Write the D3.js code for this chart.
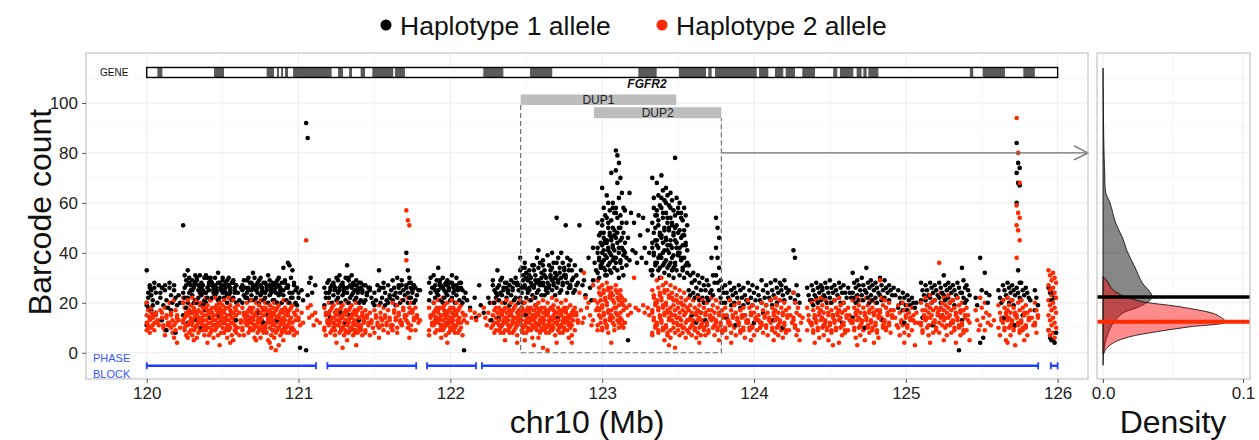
<!DOCTYPE html>
<html>
<head>
<meta charset="utf-8">
<script src="https://cdn.jsdelivr.net/npm/d3@7"></script>
<style>
  body { margin: 0; background: #fff; }
  text { font-family: "Liberation Sans", Arial, Helvetica, sans-serif; }
</style>
</head>
<body>
<svg id="chart" width="1259" height="440"></svg>
<script>
// ---- data ----
const xTicks = [120, 121, 122, 123, 124, 125, 126];
const yTicks = [0, 20, 40, 60, 80, 100];
const densityTicks = [0.0, 0.1];
const legendLabels = ["Haplotype 1 allele", "Haplotype 2 allele"];

const geneName = "FGFR2";
const geneSpan = [120.0, 126.0];
const geneExons = [
  [120.070, 120.103], [120.443, 120.509], [120.790, 120.838], [120.858, 120.871],
  [120.885, 120.898], [120.911, 120.931], [120.964, 121.218], [121.260, 121.293],
  [121.333, 121.352], [121.409, 121.438], [121.486, 121.624], [121.635, 121.701],
  [122.217, 122.349], [122.525, 122.671], [123.238, 123.359], [123.505, 123.684],
  [123.699, 123.721], [123.743, 124.018], [124.033, 124.094], [124.138, 124.193],
  [124.209, 124.270], [124.318, 124.402], [124.522, 124.548], [124.566, 124.654],
  [124.676, 124.709], [124.720, 124.742], [124.753, 124.819], [125.422, 125.444],
  [125.506, 125.653], [125.774, 125.850]
];

const dupNames = ["DUP1", "DUP2"];
const dupStarts = [122.463, 122.946];
const dupEnds = [123.488, 123.785];

const phaseBlocks = [
  [120.0, 121.115], [121.19, 121.775], [121.846, 122.169], [122.208, 125.872], [125.955, 126.0]
];

// barcode counts per ~0.03 Mb window: [window start (Mb), counts]
const hap1 = [
  [120.00, [33,24,27,19,22,26,20,18,14,11]],
  [120.03, [25,21,28,23,19,26,17]],
  [120.06, [24,20,27,16]],
  [120.09, [22,26,19,24,13]],
  [120.12, [27,21,18,25,9]],
  [120.15, [26,23,20,28,17]],
  [120.18, [25,22,19,27,8,14]],
  [120.21, [23,20]],
  [120.24, [51,31,27,24,22,29,20,26,18,15]],
  [120.27, [33,28,25,22,30,27,20,24,19,12]],
  [120.30, [29,26,31,23,27,21,25,20,28,16]],
  [120.33, [30,27,24,29,22,26,20,25,31,13]],
  [120.36, [28,25,30,23,27,21,26,19,24,10]],
  [120.39, [31,26,28,24,22,27,20,30,25,17]],
  [120.42, [29,27,24,30,22,26,21,28,25,14]],
  [120.45, [30,26,28,23,25,21,27,24,32,11]],
  [120.48, [28,25,30,22,27,24,20,26,29,15]],
  [120.51, [27,24,29,22,26,20,25,28,23,12]],
  [120.54, [30,26,28,23,25,21,27,24,16]],
  [120.57, [29,25,27,22,26,20,28,24,13]],
  [120.60, [24,21,26]],
  [120.63, [27,23,26,20,29,22,25]],
  [120.66, [29,25,28,22,26,21,24,30,14]],
  [120.69, [28,26,30,23,27,21,25,32,11]],
  [120.72, [27,24,29,22,26,20,25,28,16]],
  [120.75, [30,26,28,23,25,21,27,24,12]],
  [120.78, [28,25,31,22,27,20,24,26,15]],
  [120.81, [29,26,28,23,25,21,27,24,9]],
  [120.84, [27,24,29,21,26,20,25,28,13]],
  [120.87, [30,26,28,23,25,20,27,24,17]],
  [120.90, [34,29,26,23,28,21,25,10]],
  [120.93, [36,35,30,27,24,22,26,20]],
  [120.96, [33,28,25,22,27,20,24]],
  [120.99, [26,22,2,19,24]],
  [121.02, [25,21]],
  [121.05, [92,86,28,1,23]],
  [121.08, [30,24]],
  [121.11, [27]],
  [121.17, [26,22,28,19,24]],
  [121.20, [29,25,27,22,26,20,24,14]],
  [121.23, [28,26,30,23,25,21,27,11]],
  [121.26, [29,25,27,22,26,20,24,31,16]],
  [121.29, [28,26,30,23,25,21,27,24,12]],
  [121.32, [35,30,27,24,29,22,26,20,15]],
  [121.35, [31,28,25,23,27,21,26,24,9]],
  [121.38, [29,26,28,22,25,20,27,24,13]],
  [121.41, [28,25,27,21,24,20,26]],
  [121.44, [27,24,26,21,23]],
  [121.47, [25,22,20,26]],
  [121.50, [24,21,27,19]],
  [121.53, [33,26,22,25,20]],
  [121.56, [28,24,21,26,19]],
  [121.59, [27,23,25,20,22]],
  [121.62, [29,26,24,21,23,19]],
  [121.65, [30,26,24,22,27,20]],
  [121.68, [29,25,23,27,21]],
  [121.71, [40,33,28,26,24,22,27,20,30]],
  [121.74, [28,25,27,22,24,20,26]],
  [121.77, [26,23,25,21]],
  [121.80, [25]],
  [121.86, [28,24,26,21,30]],
  [121.89, [31,27,24,26,22,29,20,25,14]],
  [121.92, [34,29,26,23,28,21,25,27,11]],
  [121.95, [30,27,24,26,22,28,20,25,16]],
  [121.98, [29,26,28,23,25,21,27,12]],
  [122.01, [31,27,25,22,26,20,28,24,15]],
  [122.04, [30,26,28,23,25,21,27]],
  [122.07, [28,25,22,26,20,1]],
  [122.10, [24,21]],
  [122.13, [18]],
  [122.16, [22,14]],
  [122.19, [27,19]],
  [122.22, [16]],
  [122.25, [22,20,13]],
  [122.28, [29,25,22,27,20,24]],
  [122.31, [33,27,24,26,21,29,23,14]],
  [122.34, [30,26,28,23,25,20,11]],
  [122.37, [28,25,27,22,24,19,26]],
  [122.40, [29,26,28,23,25,21,15]],
  [122.43, [30,27,25,22,28,20]],
  [122.46, [38,34,31,27,24,29,22,26,20,33,18]],
  [122.49, [36,32,29,26,30,24,27,22,25,34,15]],
  [122.52, [33,30,27,25,28,23,26,21,35,31]],
  [122.55, [35,31,28,26,29,24,27,22,38,33,19]],
  [122.58, [41,36,32,29,27,30,25,28,23,34,12]],
  [122.61, [37,33,30,27,31,25,28,23,26,35]],
  [122.64, [39,35,31,28,26,30,24,27,33,16]],
  [122.67, [40,36,32,29,27,30,25,28,23,34]],
  [122.70, [54,38,34,31,28,32,26,29,24,36,14]],
  [122.73, [40,36,33,30,27,31,25,28,34]],
  [122.76, [51,38,35,31,28,26,30,24,33]],
  [122.79, [37,33,30,27,29,24,26]],
  [122.82, [35,31,28,25,27]],
  [122.85, [51,33,27]],
  [122.88, [29,23]],
  [122.91, [38,26,21]],
  [122.94, [42,36,33,29]],
  [122.97, [52,47,44,40,37,35,32,30,48,42,38,34,29]],
  [123.00, [66,58,55,51,48,45,43,41,39,36,34,31,53,46,44,40,37,33]],
  [123.03, [63,60,57,54,50,47,44,42,40,38,35,33,31,52,48,45,41,36]],
  [123.06, [72,60,56,53,50,47,45,43,41,39,37,34,32,58,49,46,42,38]],
  [123.09, [81,79,76,73,68,62,58,54,50,46,44,40,36,33,30,56,48,42,38]],
  [123.12, [70,64,58,55,52,48,45,42,39,36,34,31,50,46,41,37]],
  [123.15, [57,52,46,40,35,5,44,38]],
  [123.18, [64,56,41,37]],
  [123.21, [52,40,36]],
  [123.24, [55,47,38]],
  [123.27, [54,42,36]],
  [123.30, [49,40,33]],
  [123.33, [70,62,55,52,48,45,42,39,36,33,58,50,44,40,35,31]],
  [123.36, [68,63,59,55,51,48,45,42,39,36,33,30,57,53,47,43,38,34]],
  [123.39, [71,65,61,58,54,50,47,44,41,38,35,32,62,56,49,46,40,36]],
  [123.42, [66,63,59,56,52,49,46,43,40,37,34,31,60,54,50,45,41,35]],
  [123.45, [64,61,57,54,51,48,45,42,39,36,33,30,58,52,47,43,38,34]],
  [123.48, [78,62,58,55,51,48,45,42,39,36,33,56,50,44,40,35]],
  [123.51, [60,56,53,49,46,43,40,37,34,31,54,47,42,38,33]],
  [123.54, [58,55,51,47,44,41,38,35,32,49,43,36,30]],
  [123.57, [35,31,28,25,23,15]],
  [123.60, [32,29,26,24,22,12]],
  [123.63, [31,28,25,23,21,16]],
  [123.66, [30,27,25,22,20,13]],
  [123.69, [29,27,24,22,21]],
  [123.72, [38,31,28,25,23]],
  [123.75, [54,50,46,42,38,34,31,28,25]],
  [123.78, [29,26,24,22,20]],
  [123.81, [27,24,22,20,14]],
  [123.84, [28,25,23,21,19]],
  [123.87, [26,24,22,20,11]],
  [123.90, [27,25,22,20,18]],
  [123.93, [26,23,21,19,15]],
  [123.96, [28,25,22,20]],
  [123.99, [27,24,21,19,12]],
  [124.02, [26,23,21]],
  [124.05, [29,25,22,20,16]],
  [124.08, [27,24,22,19]],
  [124.11, [28,25,23,21,19,13]],
  [124.14, [29,26,24,22,20]],
  [124.17, [28,25,23,21,27,10]],
  [124.20, [29,26,24,21]],
  [124.23, [25,22]],
  [124.26, [41,38,27,24,21]],
  [124.29, [23,20]],
  [124.35, [26,23,21]],
  [124.38, [27,25,23,21,19,14]],
  [124.41, [28,26,24,22,20]],
  [124.44, [27,25,23,21,26,11]],
  [124.47, [28,26,24,22,20]],
  [124.50, [29,26,24,22,20,15]],
  [124.53, [27,25,23,21]],
  [124.56, [28,26,24,22,20,12]],
  [124.59, [27,24,22,20]],
  [124.62, [26,24,22]],
  [124.65, [32,28,26,24,22,20,14]],
  [124.68, [29,27,25,23,21]],
  [124.71, [30,27,25,23,21,10]],
  [124.74, [34,28,26,24,22,20]],
  [124.77, [29,27,25,23,21,16]],
  [124.80, [28,26,24,22,20]],
  [124.83, [30,27,25,23,21,13]],
  [124.86, [29,26,24,22]],
  [124.89, [27,25,23,21]],
  [124.92, [26,23]],
  [124.95, [25,22,20,18]],
  [124.98, [24,22,19,17,12]],
  [125.01, [23,21,19,17]],
  [125.04, [22,20,18]],
  [125.07, [20]],
  [125.10, [28,25,23,21,14]],
  [125.13, [27,25,23,21,19]],
  [125.16, [28,26,24,22,20,11]],
  [125.19, [27,25,23,21]],
  [125.22, [28,26,24,22,20,15]],
  [125.25, [31,27,25,23,21]],
  [125.28, [28,26,24,22,20,12]],
  [125.31, [27,25,23,21,19]],
  [125.34, [28,26,24,22,1]],
  [125.37, [34,29,26,24,22,20,13]],
  [125.40, [27,25,23,21]],
  [125.46, [22,19]],
  [125.49, [38,25,6,4]],
  [125.52, [32,24,20]],
  [125.55, [23]],
  [125.61, [25,22,20]],
  [125.64, [27,25,23,21,14]],
  [125.67, [28,26,24,22,20]],
  [125.70, [27,25,23,21,19,11]],
  [125.73, [84,76,74,72,68,67,60,33,28,26,24,22]],
  [125.76, [28,25,23,21,15]],
  [125.79, [26,24,22]],
  [125.82, [21]],
  [125.85, [25,22,19,17]],
  [125.94, [26,24,21,9,6,5]],
  [125.97, [24,22,8,5,4]]
];

const hap2 = [
  [120.00, [20,17,14,12,10,8,15,11,13,9]],
  [120.03, [18,15,12,10,14,9,16,11]],
  [120.06, [16,13,11,15,12]],
  [120.09, [17,14,11,13,16,10]],
  [120.12, [18,15,12,9,14,11,7]],
  [120.15, [20,16,13,11,15,8,12,10]],
  [120.18, [21,17,14,11,9,15,6,12,4]],
  [120.21, [13,10]],
  [120.24, [22,18,15,12,9,16,13,10,7,20,14,11]],
  [120.27, [21,17,14,11,8,19,15,12,9,6,16,13]],
  [120.30, [22,18,15,12,9,20,16,13,10,7,17,14,11,5]],
  [120.33, [21,17,14,11,8,19,15,12,9,16,13,10,6]],
  [120.36, [20,18,15,12,9,17,14,11,7,16,13,10]],
  [120.39, [22,19,16,13,10,7,18,15,12,9,17,14,11,4]],
  [120.42, [21,18,15,12,9,6,17,14,11,8,16,13,10]],
  [120.45, [22,19,16,13,10,7,18,15,12,9,17,14,11]],
  [120.48, [20,17,14,11,8,19,16,13,10,18,15,12,3]],
  [120.51, [21,18,15,12,9,6,17,14,11,16,13,10,8]],
  [120.54, [22,19,16,13,10,7,18,15,12,9,17,14,11,4]],
  [120.57, [21,18,15,12,9,17,14,11,8,16,13,10,5]],
  [120.60, [19,16,13,10,7,12]],
  [120.63, [18,15,12,9,16,13,10,7,14]],
  [120.66, [20,17,14,11,8,18,15,12,9,16,13,10]],
  [120.69, [21,18,15,12,9,6,17,14,11,16,13,10]],
  [120.72, [20,17,14,11,8,19,16,13,10,15,12,9,5]],
  [120.75, [21,18,15,12,9,17,14,11,8,16,13,10,6]],
  [120.78, [20,17,14,11,8,5,18,15,12,9,16,13,10]],
  [120.81, [19,16,13,10,7,18,15,12,9,17,14,11,4,2]],
  [120.84, [20,17,14,11,8,18,15,12,9,16,13,10,6,1]],
  [120.87, [19,16,13,10,7,17,14,11,8,15,12,9,3]],
  [120.90, [21,18,15,12,9,17,14,11,8,16,13,10,5]],
  [120.93, [20,17,14,11,8,18,15,12,9,16,13,10]],
  [120.96, [19,16,13,10,7,15,12,9]],
  [120.99, [17,14,11,8,13]],
  [121.02, [16,12]],
  [121.05, [45,18,14]],
  [121.08, [19,15,11]],
  [121.11, [16,13]],
  [121.14, [12]],
  [121.17, [18,15,12,9,16,13,10,7]],
  [121.20, [20,17,14,11,8,18,15,12,9,16,13]],
  [121.23, [19,16,13,10,7,17,14,11,15,12,9,4]],
  [121.26, [20,17,14,11,8,18,15,12,9,16,13,10]],
  [121.29, [19,16,13,10,7,17,14,11,8,15,12,9,2]],
  [121.32, [20,17,14,11,8,18,15,12,9,16,13,10,5]],
  [121.35, [19,16,13,10,7,17,14,11,8,15,12,9]],
  [121.38, [20,17,14,11,8,18,15,12,9,16,13,10,3]],
  [121.41, [18,15,12,9,16,13,10,7,14,11]],
  [121.44, [17,14,11,8,15,12,9]],
  [121.47, [16,13,10,7,12]],
  [121.50, [17,14,11,8,15,12]],
  [121.53, [19,16,13,10,14,11,6]],
  [121.56, [18,15,12,9,14,11]],
  [121.59, [17,14,11,8,13,10]],
  [121.62, [20,17,14,11,16,13,9]],
  [121.65, [19,16,13,10,15,12,8]],
  [121.68, [21,18,15,12,17,14,11]],
  [121.71, [57,53,51,37,22,18,15,12,16,13,10,6]],
  [121.74, [20,17,14,11,16,13,9]],
  [121.77, [18,15,12,9,14]],
  [121.80, [13]],
  [121.86, [18,15,12,9,14,11,7]],
  [121.89, [20,17,14,11,8,18,15,12,9,16,13]],
  [121.92, [21,18,15,12,9,6,17,14,11,16,13,10]],
  [121.95, [22,19,16,13,10,7,18,15,12,9,17,14,11]],
  [121.98, [20,17,14,11,8,18,15,12,9,16,13,10,4]],
  [122.01, [21,18,15,12,9,17,14,11,8,16,13,10]],
  [122.04, [20,17,14,11,8,18,15,12,9,16,13]],
  [122.07, [19,16,13,10,7,15,12]],
  [122.10, [15,12]],
  [122.13, [17,14]],
  [122.16, [16,13]],
  [122.19, [15]],
  [122.22, [18,14,11]],
  [122.25, [16,13,10]],
  [122.28, [20,17,14,11,8,18,15,12,9]],
  [122.31, [21,18,15,12,9,17,14,11,8,16,13,10]],
  [122.34, [20,17,14,11,8,18,15,12,9,16,13,5]],
  [122.37, [21,18,15,12,9,17,14,11,8,16,13,10]],
  [122.40, [20,17,14,11,8,18,15,12,9,16,13]],
  [122.43, [19,16,13,10,7,17,14,11,15,12,4]],
  [122.46, [21,18,15,12,9,17,14,11,8,16,13,10]],
  [122.49, [20,17,14,11,8,18,15,12,9,16,13,10,5]],
  [122.52, [21,18,15,12,9,6,17,14,11,16,13,10]],
  [122.55, [22,19,16,13,10,18,15,12,9,17,14,11,3]],
  [122.58, [20,17,14,11,8,18,15,12,9,16,13,10,6]],
  [122.61, [21,18,15,12,9,17,14,11,8,16,13,10,2]],
  [122.64, [20,17,14,11,8,18,15,12,9,16,13,10,1]],
  [122.67, [22,19,16,13,10,7,18,15,12,9,17,14,11]],
  [122.70, [21,18,15,12,9,17,14,11,8,16,13,10,4]],
  [122.73, [20,17,14,11,8,18,15,12,9,16,13,10]],
  [122.76, [21,18,15,12,9,6,17,14,11,16,13]],
  [122.79, [19,16,13,10,7,17,14,11,15,12,4]],
  [122.82, [18,15,12,9,16,13]],
  [122.85, [24,17,12]],
  [122.88, [32,22,18,14]],
  [122.91, [20,15,11]],
  [122.94, [27,21,17,13]],
  [122.97, [29,26,23,20,17,14,11,24,21,18,15,12,9]],
  [123.00, [27,24,21,18,15,12,9,25,22,19,16,13,10]],
  [123.03, [28,25,22,19,16,13,10,26,23,20,17,14,11,8]],
  [123.06, [26,23,20,17,14,11,24,21,18,15,12,9,4]],
  [123.09, [27,24,21,18,15,12,25,22,19,16,13,10]],
  [123.12, [25,22,19,16,13,10,23,20,17,14,11]],
  [123.15, [21,18,15,12]],
  [123.18, [19,16]],
  [123.21, [30,18]],
  [123.24, [17]],
  [123.27, [19,16]],
  [123.30, [18,15]],
  [123.33, [25,22,19,16,13,10,7,23,20,17,14,11,8]],
  [123.36, [29,26,23,20,17,14,11,8,24,21,18,15,12,9]],
  [123.39, [30,27,24,21,18,15,12,9,25,22,19,16,13,10,5]],
  [123.42, [28,25,22,19,16,13,10,7,23,20,17,14,11,8,3]],
  [123.45, [27,24,21,18,15,12,9,22,19,16,13,10,6]],
  [123.48, [26,23,20,17,14,11,8,21,18,15,12,9,2]],
  [123.51, [25,22,19,16,13,10,7,20,17,14,11,8]],
  [123.54, [24,21,18,15,12,9,19,16,13,10,6]],
  [123.57, [22,19,16,13,10,7,17,14,11,8]],
  [123.60, [21,18,15,12,9,16,13,10,6]],
  [123.63, [22,19,16,13,10,7,17,14,11,8,4]],
  [123.66, [21,18,15,12,9,16,13,10,7]],
  [123.69, [20,17,14,11,8,15,12,9]],
  [123.72, [22,19,16,13,10,7,17,14,11]],
  [123.75, [21,18,15,12,9,16,13,10,5]],
  [123.78, [20,17,14,11,8,15,12,9]],
  [123.81, [18,15,12,9,6,13,10]],
  [123.84, [21,17,14,11,8,15,12,4]],
  [123.87, [19,16,13,10,7,14,11]],
  [123.90, [20,17,14,11,8,15,12,9]],
  [123.93, [18,15,12,9,6,13,10]],
  [123.96, [21,18,15,12,9,16,13,10,5]],
  [123.99, [19,16,13,10,7,14,11]],
  [124.02, [18,15,12,9,13,10]],
  [124.05, [20,17,14,11,8,15,12]],
  [124.08, [19,16,13,10,7,14,11]],
  [124.11, [21,18,15,12,9,16,13,10,5]],
  [124.14, [22,19,16,13,10,7,17,14,11,8]],
  [124.17, [21,18,15,12,9,16,13,10,6]],
  [124.20, [20,17,14,11,8,15,12,9]],
  [124.23, [18,15,12,9]],
  [124.26, [24,20,16,13,10,7,14,11]],
  [124.29, [18,15,12,9,5]],
  [124.32, [14]],
  [124.35, [18,15,12,9,13]],
  [124.38, [20,17,14,11,8,15,12,9,4]],
  [124.41, [21,18,15,12,9,16,13,10,6]],
  [124.44, [22,19,16,13,10,7,17,14,11]],
  [124.47, [21,18,15,12,9,16,13,10,5]],
  [124.50, [20,17,14,11,8,15,12,9,3]],
  [124.53, [21,18,15,12,9,16,13,10]],
  [124.56, [22,19,16,13,10,7,17,14,11,4]],
  [124.59, [20,17,14,11,8,15,12,9]],
  [124.62, [18,15,12,9,13]],
  [124.65, [21,18,15,12,9,16,13,10,6]],
  [124.68, [22,19,16,13,10,7,17,14,11,3]],
  [124.71, [21,18,15,12,9,16,13,10,5]],
  [124.74, [22,19,16,13,10,17,14,11,8]],
  [124.77, [21,18,15,12,9,16,13,10,4]],
  [124.80, [20,17,14,11,8,15,12,9,6]],
  [124.83, [29,22,19,16,13,10,17,14,11]],
  [124.86, [21,18,15,12,9,16,13,10]],
  [124.89, [20,17,14,11,8,15,12]],
  [124.92, [17,14,11]],
  [124.95, [19,16,13,10,7,12]],
  [124.98, [20,17,14,11,8,15,12,4]],
  [125.01, [19,16,13,10,7,14,11]],
  [125.04, [18,15,12,9,13,3]],
  [125.07, [16,12]],
  [125.10, [20,17,14,11,8,15,12,9]],
  [125.13, [22,19,16,13,10,7,17,14,11]],
  [125.16, [23,20,17,14,11,8,18,15,12,4]],
  [125.19, [21,18,15,12,9,16,13,10]],
  [125.22, [36,24,20,17,14,11,8,18,15,12]],
  [125.25, [22,19,16,13,10,7,17,14,11,5]],
  [125.28, [23,20,17,14,11,8,18,15,12]],
  [125.31, [21,18,15,12,9,16,13,10,4]],
  [125.34, [22,19,16,13,10,17,14,11,7]],
  [125.37, [20,17,14,11,8,15,12,9]],
  [125.40, [18,15,12,9,13,5]],
  [125.46, [17,13,9]],
  [125.49, [22,18,14,11]],
  [125.52, [20,16,12,9]],
  [125.55, [15,11]],
  [125.58, [13]],
  [125.61, [19,16,13,10,7,14]],
  [125.64, [21,18,15,12,9,16,13,10,5]],
  [125.67, [22,19,16,13,10,7,17,14,11,4]],
  [125.70, [21,18,15,12,9,16,13,10,3]],
  [125.73, [94,80,68,59,56,54,51,49,45,38,20,17,14,11,8,15,12,9]],
  [125.76, [21,18,15,12,9,16,13,10,5]],
  [125.79, [19,16,13,10,7,14,11]],
  [125.82, [17,14,11]],
  [125.85, [20,17,14,11,8,15,12]],
  [125.94, [33,31,29,27,25,23,21,19,17,15,13,11,9,7]],
  [125.97, [32,30,28,26,24,22,20,18,16,14,12,10,8,6]]
];

// density of barcode counts: [count, density]
const hap1Density = [
  [-5, 0], [0, 0.0005], [4, 0.0015], [8, 0.0038], [12, 0.0074], [16, 0.0145], [18, 0.024],
  [20, 0.031], [22, 0.035], [24, 0.034], [28, 0.028], [34, 0.023], [41, 0.017], [46, 0.014],
  [52, 0.009], [60, 0.005], [64, 0.002], [72, 0.0012], [81, 0.0007], [95, 0.0003], [114, 0]
];
const hap2Density = [
  [-0.5, 0], [0, 0.0008], [1, 0.0014], [4, 0.0074], [6.4, 0.019], [8.4, 0.038], [10.4, 0.062],
  [12.4, 0.0876], [14.4, 0.0836], [15.7, 0.079], [18.4, 0.055], [21, 0.024], [25, 0.0074],
  [29, 0.0026], [30.5, 0]
];
const hap1Peak = 22.3;
const hap2Peak = 12.4;

// ---- drawing ----
const black = "#000000";
const red = "#ff2a00";
const svg = d3.select("#chart");
svg.append("rect").attr("width", 1259).attr("height", 440).attr("fill", "#fff");

const x = d3.scaleLinear().domain([119.6, 126.2]).range([86, 1088]);
const y = d3.scaleLinear().domain([-10.5, 120]).range([379, 53]);
const dx = d3.scaleLinear().domain([-0.0043, 0.105]).range([1097, 1250]);

const gridMajor = "#ebebeb", gridMinor = "#f6f6f6";

// main panel grid
const main = svg.append("g");
main.selectAll(".vminor").data(d3.range(120.5, 126, 1)).join("line")
  .attr("x1", d => x(d)).attr("x2", d => x(d)).attr("y1", 53).attr("y2", 379)
  .attr("stroke", gridMinor);
main.selectAll(".hminor").data([-10, 10, 30, 50, 70, 90, 110]).join("line")
  .attr("x1", 86).attr("x2", 1088).attr("y1", d => y(d)).attr("y2", d => y(d))
  .attr("stroke", gridMinor);
main.selectAll(".vmajor").data(xTicks).join("line")
  .attr("x1", d => x(d)).attr("x2", d => x(d)).attr("y1", 53).attr("y2", 379)
  .attr("stroke", gridMajor);
main.selectAll(".hmajor").data(yTicks).join("line")
  .attr("x1", 86).attr("x2", 1088).attr("y1", d => y(d)).attr("y2", d => y(d))
  .attr("stroke", gridMajor);

// density panel grid
const dens = svg.append("g");
dens.selectAll(".dvminor").data([0.05]).join("line")
  .attr("x1", d => dx(d)).attr("x2", d => dx(d)).attr("y1", 53).attr("y2", 379)
  .attr("stroke", gridMinor);
dens.selectAll(".dhminor").data([-10, 10, 30, 50, 70, 90, 110]).join("line")
  .attr("x1", 1097).attr("x2", 1250).attr("y1", d => y(d)).attr("y2", d => y(d))
  .attr("stroke", gridMinor);
dens.selectAll(".dvmajor").data(densityTicks).join("line")
  .attr("x1", d => dx(d)).attr("x2", d => dx(d)).attr("y1", 53).attr("y2", 379)
  .attr("stroke", gridMajor);
dens.selectAll(".dhmajor").data(yTicks).join("line")
  .attr("x1", 1097).attr("x2", 1250).attr("y1", d => y(d)).attr("y2", d => y(d))
  .attr("stroke", gridMajor);

// gene track
main.append("rect")
  .attr("x", x(geneSpan[0])).attr("y", y(114.2))
  .attr("width", x(geneSpan[1]) - x(geneSpan[0])).attr("height", y(110.2) - y(114.2))
  .attr("fill", "#fff");
main.selectAll(".exon").data(geneExons).join("rect")
  .attr("x", d => x(d[0])).attr("y", y(114.2))
  .attr("width", d => Math.max(1, x(d[1]) - x(d[0]))).attr("height", y(110.2) - y(114.2))
  .attr("fill", "#5a5a5a");
main.append("rect")
  .attr("x", x(geneSpan[0])).attr("y", y(114.2))
  .attr("width", x(geneSpan[1]) - x(geneSpan[0])).attr("height", y(110.2) - y(114.2))
  .attr("fill", "none").attr("stroke", "#000").attr("stroke-width", 1.4);
main.append("text").attr("x", 100).attr("y", y(112.2) + 3.5)
  .attr("font-size", 10).attr("fill", "#111").text("GENE");
main.append("text").attr("x", 647).attr("y", y(107.9) + 4.5)
  .attr("font-size", 12).attr("font-weight", "bold").attr("font-style", "italic")
  .attr("text-anchor", "middle").attr("fill", "#111").text(geneName);

// duplication boxes
const dupRows = [[103.4, 99.2], [98.3, 93.9]];
dupNames.forEach((name, i) => {
  main.append("rect")
    .attr("x", x(dupStarts[i])).attr("y", y(dupRows[i][0]))
    .attr("width", x(dupEnds[i]) - x(dupStarts[i]))
    .attr("height", y(dupRows[i][1]) - y(dupRows[i][0]))
    .attr("fill", "#bdbdbd");
  main.append("text")
    .attr("x", (x(dupStarts[i]) + x(dupEnds[i])) / 2)
    .attr("y", (y(dupRows[i][0]) + y(dupRows[i][1])) / 2 + 4.2)
    .attr("text-anchor", "middle").attr("font-size", 12).attr("fill", "#222")
    .text(name);
});

// points: interleaved by position so black and red mix like the original
function flatten(bins, hap) {
  const pts = [];
  bins.forEach(([pos, counts]) => {
    counts.forEach((c, j) => pts.push({ mb: pos + (j % 3) * 0.01, count: c, hap }));
  });
  return pts;
}
const allPts = flatten(hap1, 1).concat(flatten(hap2, 2))
  .sort((a, b) => d3.ascending(a.mb, b.mb) || d3.ascending(a.hap, b.hap));
main.append("g").selectAll("circle").data(allPts).join("circle")
  .attr("cx", d => x(d.mb)).attr("cy", d => y(d.count)).attr("r", 2.3)
  .attr("fill", d => d.hap === 1 ? black : red);

// dashed duplication region (open at the top, hanging from the DUP boxes)
const dashPath = d3.path();
dashPath.moveTo(x(dupStarts[0]), y(dupRows[0][1]));
dashPath.lineTo(x(dupStarts[0]), y(0));
dashPath.lineTo(x(dupEnds[1]), y(0));
dashPath.lineTo(x(dupEnds[1]), y(dupRows[1][1]));
main.append("path").attr("d", dashPath.toString())
  .attr("fill", "none").attr("stroke", "#707070").attr("stroke-width", 1.2)
  .attr("stroke-dasharray", "5,3");

// arrow to density panel
main.append("line")
  .attr("x1", x(dupEnds[1])).attr("x2", 1088).attr("y1", y(80)).attr("y2", y(80))
  .attr("stroke", "#707070").attr("stroke-width", 1.3);
main.append("path")
  .attr("d", `M${1074},${y(80) - 7} L1088,${y(80)} L${1074},${y(80) + 7}`)
  .attr("fill", "none").attr("stroke", "#707070").attr("stroke-width", 1.3);

// phase blocks
const blue = "#1f3fff";
const pb = main.append("g").attr("stroke", blue).attr("stroke-width", 2.4);
phaseBlocks.forEach(([s, e]) => {
  pb.append("line").attr("x1", x(s)).attr("x2", x(e)).attr("y1", y(-5.2)).attr("y2", y(-5.2));
  pb.append("line").attr("x1", x(s)).attr("x2", x(s)).attr("y1", y(-5.2) - 3.5).attr("y2", y(-5.2) + 3.5).attr("stroke-width", 1.8);
  pb.append("line").attr("x1", x(e)).attr("x2", x(e)).attr("y1", y(-5.2) - 3.5).attr("y2", y(-5.2) + 3.5).attr("stroke-width", 1.8);
});
main.append("text").attr("x", 93).attr("y", 362).attr("font-size", 11).attr("fill", "#3355ff").text("PHASE");
main.append("text").attr("x", 93).attr("y", 378).attr("font-size", 11).attr("fill", "#3355ff").text("BLOCK");

// density curves
const area = d3.area()
  .y(d => y(d[0])).x0(dx(0)).x1(d => dx(d[1]))
  .curve(d3.curveCatmullRom.alpha(0.5));
dens.append("path").datum(hap1Density).attr("d", area)
  .attr("fill", "#000").attr("fill-opacity", 0.47)
  .attr("stroke", "#000").attr("stroke-width", 0.8);
dens.append("path").datum(hap2Density).attr("d", area)
  .attr("fill", "#ff0000").attr("fill-opacity", 0.45)
  .attr("stroke", "#000").attr("stroke-width", 0.8);
dens.append("line").attr("x1", 1097).attr("x2", 1250)
  .attr("y1", y(hap1Peak)).attr("y2", y(hap1Peak))
  .attr("stroke", black).attr("stroke-width", 3.5);
dens.append("line").attr("x1", 1097).attr("x2", 1250)
  .attr("y1", y(hap2Peak)).attr("y2", y(hap2Peak))
  .attr("stroke", red).attr("stroke-width", 4);

// panel borders
svg.append("rect").attr("x", 86).attr("y", 53).attr("width", 1002).attr("height", 326)
  .attr("fill", "none").attr("stroke", "#c4c4c4").attr("stroke-width", 1.2);
svg.append("rect").attr("x", 1097).attr("y", 53).attr("width", 153).attr("height", 326)
  .attr("fill", "none").attr("stroke", "#c4c4c4").attr("stroke-width", 1.2);

// axes
const xAxis = svg.append("g").attr("transform", "translate(0,379)")
  .call(d3.axisBottom(x).tickValues(xTicks).tickSize(4).tickPadding(4).tickFormat(d3.format("d")));
const yAxis = svg.append("g").attr("transform", "translate(86,0)")
  .call(d3.axisLeft(y).tickValues(yTicks).tickSize(4).tickPadding(4));
const dAxis = svg.append("g").attr("transform", "translate(0,379)")
  .call(d3.axisBottom(dx).tickValues(densityTicks).tickSize(4).tickPadding(4).tickFormat(d3.format(".1f")));
[xAxis, yAxis, dAxis].forEach(g => {
  g.select(".domain").remove();
  g.selectAll(".tick line").attr("stroke", "#555");
  g.selectAll(".tick text").attr("font-size", 17).attr("fill", "#222")
    .attr("font-family", "Liberation Sans, Arial, sans-serif");
});

// axis titles
svg.append("text").attr("transform", "translate(51,212) rotate(-90)")
  .attr("text-anchor", "middle").attr("font-size", 32).attr("fill", "#111").text("Barcode count");
svg.append("text").attr("x", 587).attr("y", 433)
  .attr("text-anchor", "middle").attr("font-size", 32).attr("fill", "#111").text("chr10 (Mb)");
svg.append("text").attr("x", 1173).attr("y", 433)
  .attr("text-anchor", "middle").attr("font-size", 32).attr("fill", "#111").text("Density");

// legend
const legend = svg.append("g");
[[386, black], [662, red]].forEach(([lx, col], i) => {
  legend.append("circle").attr("cx", lx).attr("cy", 25).attr("r", 5.5).attr("fill", col);
  legend.append("text").attr("x", lx + 14).attr("y", 34.5).attr("font-size", 26.5)
    .attr("fill", "#111").text(legendLabels[i]);
});
</script>
</body>
</html>
